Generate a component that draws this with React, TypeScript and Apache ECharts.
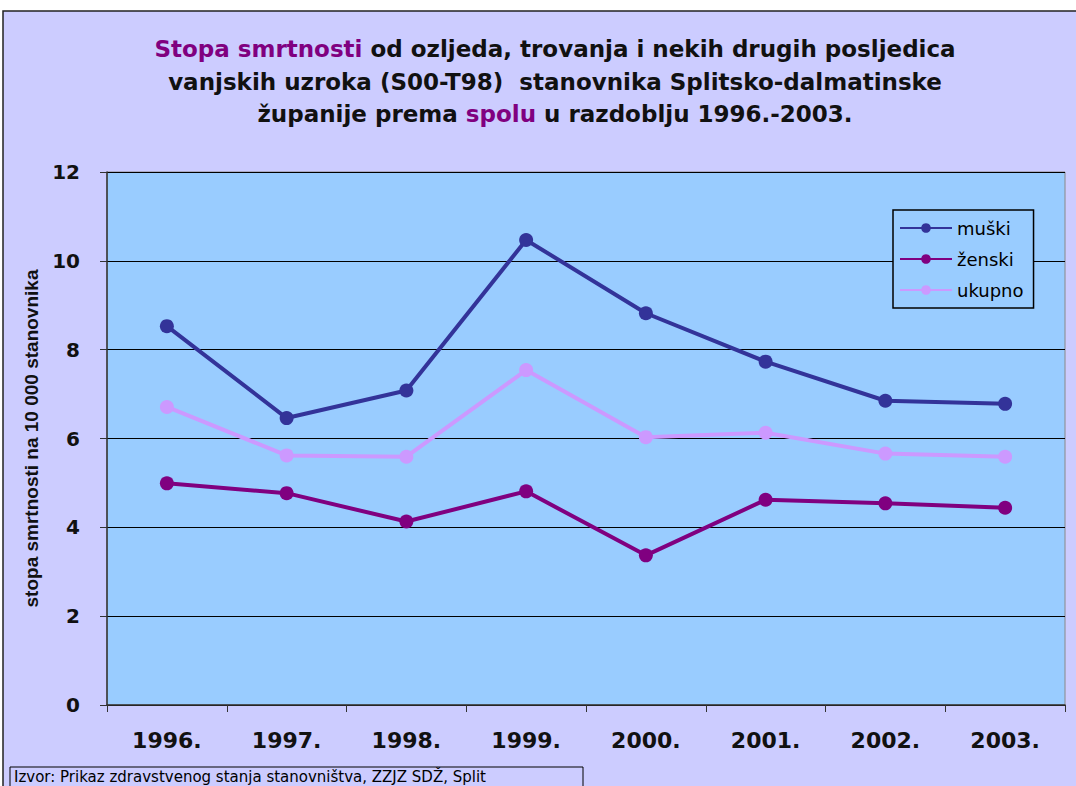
import React, { useEffect, useRef } from "react";
import * as echarts from "echarts";

const years = ["1996.", "1997.", "1998.", "1999.", "2000.", "2001.", "2002.", "2003."];
const muski = [8.53, 6.46, 7.08, 10.47, 8.82, 7.73, 6.85, 6.78];
const zenski = [4.99, 4.77, 4.13, 4.81, 3.37, 4.62, 4.54, 4.44];
const ukupno = [6.71, 5.62, 5.59, 7.54, 6.03, 6.13, 5.66, 5.59];
const seriesNames = ["muški", "ženski", "ukupno"];
const colors = ["#333399", "#800080", "#CC99FF"];
const yTicks = { min: 0, max: 12, interval: 2 };

const WIDE = "DejaVu Sans, Verdana, sans-serif";

export default function App() {
  const ref = useRef<HTMLDivElement>(null);
  useEffect(() => {
    const chart = echarts.init(ref.current!, null, { renderer: "svg" });
    const mk = (name: string, data: number[], color: string) => ({
      name,
      type: "line",
      data,
      symbol: "circle",
      symbolSize: 14,
      lineStyle: { width: 4, color },
      itemStyle: { color },
      z: 3,
    });
    chart.setOption({
      animation: false,
      backgroundColor: "#ffffff",
      textStyle: { fontFamily: WIDE },
      graphic: [
        {
          type: "rect",
          z: -100,
          shape: { x: 3, y: 11, width: 1090, height: 800 },
          style: { fill: "#CCCCFF", stroke: "#222", lineWidth: 1.5 },
        },
        {
          type: "rect",
          z: 10,
          shape: { x: 10, y: 767, width: 573, height: 40 },
          style: { fill: "#CCCCFF", stroke: "#000", lineWidth: 1 },
        },
        {
          type: "text",
          z: 11,
          x: 14,
          y: 769,
          style: {
            text: "Izvor: Prikaz zdravstvenog stanja stanovništva, ZZJZ SDŽ, Split",
            font: "15px DejaVu Sans, sans-serif",
            fill: "#000",
          },
        },
      ],
      title: {
        text:
          "{p|Stopa smrtnosti} od ozljeda, trovanja i nekih drugih posljedica\nvanjskih uzroka (S00-T98)  stanovnika Splitsko-dalmatinske\nžupanije prema {p|spolu} u razdoblju 1996.-2003.",
        left: 550,
        top: 28,
        textAlign: "center",
        textStyle: {
          fontSize: 23,
          fontWeight: "bold",
          color: "#111",
          lineHeight: 32.5,
          fontFamily: WIDE,
          rich: {
            p: {
              fontSize: 23,
              fontWeight: "bold",
              color: "#800080",
              lineHeight: 32.5,
              fontFamily: WIDE,
            },
          },
        },
      },
      legend: {
        data: seriesNames,
        orient: "vertical",
        left: 893,
        top: 210,
        itemWidth: 52,
        itemHeight: 12,
        itemGap: 13,
        padding: [9, 10, 9, 6],
        backgroundColor: "#99CCFF",
        borderColor: "#000",
        borderWidth: 1.5,
        textStyle: { fontSize: 18, color: "#000", fontFamily: WIDE },
      },
      grid: {
        left: 107,
        top: 172,
        right: 11,
        bottom: 81,
        show: true,
        backgroundColor: "#99CCFF",
        borderColor: "#888",
        borderWidth: 1,
      },
      xAxis: {
        type: "category",
        data: years,
        boundaryGap: true,
        axisLine: { lineStyle: { color: "#333", width: 1.5 } },
        axisTick: { show: true, length: 7, alignWithLabel: false, lineStyle: { color: "#333" } },
        axisLabel: { fontSize: 22, fontWeight: "bold", color: "#111", margin: 24, fontFamily: WIDE },
      },
      yAxis: {
        type: "value",
        min: yTicks.min,
        max: yTicks.max,
        interval: yTicks.interval,
        name: "stopa smrtnosti na 10 000 stanovnika",
        nameLocation: "middle",
        nameGap: 66,
        nameRotate: 90,
        nameTextStyle: {
          fontSize: 19,
          fontWeight: "bold",
          color: "#111",
          fontFamily: "Liberation Sans, Arial, sans-serif",
        },
        axisLine: { show: true, lineStyle: { color: "#333", width: 1.5 } },
        axisTick: { show: true, length: 7, lineStyle: { color: "#333" } },
        axisLabel: { fontSize: 20, fontWeight: "bold", color: "#111", margin: 27, fontFamily: WIDE },
        splitLine: { show: true, lineStyle: { color: "#000", width: 1.2 } },
      },
      series: [
        mk(seriesNames[0], muski, colors[0]),
        mk(seriesNames[1], zenski, colors[1]),
        mk(seriesNames[2], ukupno, colors[2]),
      ],
    });
    return () => chart.dispose();
  }, []);
  return (
    <div
      ref={ref}
      style={{ position: "fixed", left: 0, top: 0, width: 1076, height: 786 }}
    />
  );
}
